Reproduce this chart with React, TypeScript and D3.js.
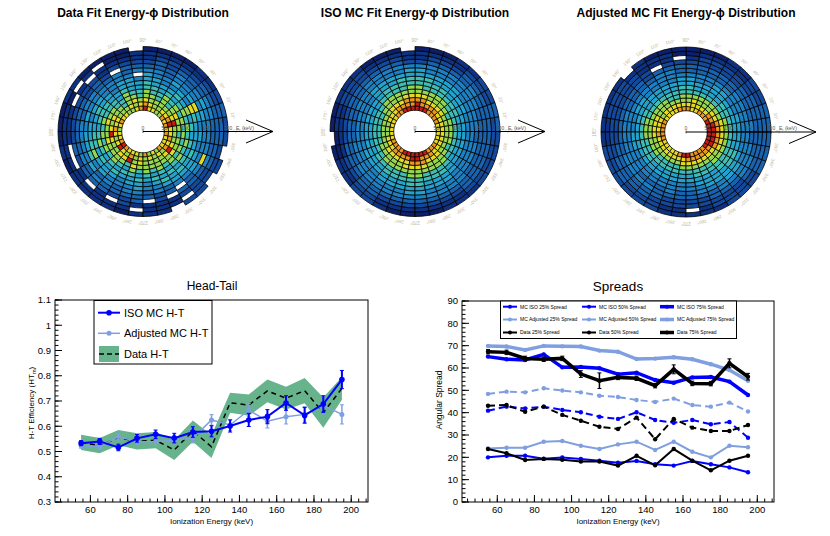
import * as d3 from "d3";

const FONT = "'Liberation Sans', Arial, Helvetica, sans-serif";

// ---- polar energy-phi maps ----
const energyEdges = [50, 60, 70, 80, 90, 100, 110, 120, 130, 140, 150, 160, 170, 180, 190, 200];
const phiTicks = [0, 10, 20, 30, 40, 50, 60, 70, 80, 90, 100, 110, 120, 130, 140, 150, 160, 170,
  180, 190, 200, 210, 220, 230, 240, 250, 260, 270, 280, 290, 300, 310, 320, 330, 340, 350];
const energyTicks = [0, 50, 100, 150, 200];

const palette = ["#0b1f6b", "#0e3283", "#13489a", "#1862ae", "#1c80c2", "#22a2cc",
  "#3ebdb4", "#95d64e", "#e4da24", "#ea961c", "#c81a14"];

// one string per energy ring (inner -> outer), one char per 10 deg sector (0 deg -> 350 deg, ccw)
// 0..9,a = colour level, "." = empty bin
const dataFitRings = [
  "898977 88a987 788987 889a98 887978 798889",
  "8a9887 789878 777889 878a87 978787 879898",
  "7a8777 778787 677878 a87788 a78777 78a877",
  "778767 677677 667787 787777 687777 778776",
  "676767 667667 566676 767676 576767 676767",
  "767656 566556 556665 676565 665656 567676",
  "657565 556555 455655 665656 556565 656565",
  "568454 455455 445545 567555 455456 565655",
  "458545 445.44 444454 556454 445445 555545",
  "454444 344434 334434 444534 344343 445444",
  "445434 33333. 232333 334343 333323 .34844",
  "344333 232222 122222 232333 223.2. 333433",
  "333322 221111 1.1.11 1..1.1 .21111 222333",
  "332211 111100 .1.011 111111 11.111 .22223",
  "232110 000.00 001100 010111 10111. 22.2.2",
];
const isoFitRings = [
  "889999 aaaaaa 998888 889999 aaaaaa 999888",
  "888899 99a999 988877 788899 99aa99 988888",
  "777888 899998 887777 777888 889998 887777",
  "776777 788887 777666 667777 788887 777677",
  "666677 777777 776666 666677 777777 776666",
  "556666 667766 665555 555666 667766 665555",
  "555556 666666 655555 555556 666666 655555",
  "445555 566665 554444 445555 556655 554444",
  "444455 555555 554444 444445 555555 544444",
  "444444 445544 444433 344444 445544 444443",
  "334444 444444 443333 333444 444444 443333",
  "333433 332233 333322 233333 333333 333333",
  "333332 221122 222211 112233 222222 233333",
  "232221 111111 122211 001122 111111 122222",
  "332211 000.00 011100 .01122 100001 112222",
];
const adjFitRings = [
  "aaa999 889998 888999 998888 89aa99 99aaaa",
  "aa9988 888888 887888 988888 888999 999aaa",
  "998877 787777 777888 877777 778888 888999",
  "887777 777766 777777 777766 667777 777888",
  "776666 666666 666677 766666 666666 677777",
  "666655 556655 555666 666655 555566 666666",
  "555555 555555 555555 555555 555555 566655",
  "554455 445544 445544 554444 444455 556655",
  "444444 444444 444444 444444 444445 555544",
  "444433 333344 333344 444433 343344 455444",
  "433333 333333 233333 334444 333333 444443",
  "333322 22222. 222222 233333 322223 334433",
  "333222 221.11 122222 223333 222222 223333",
  "332211 110011 112221 122322 211.12 222333",
  "332211 000000 1.1111 122222 211111 222333",
];

// ---- head-tail ----
const energies = [55, 65, 75, 85, 95, 105, 115, 125, 135, 145, 155, 165, 175, 185, 195];
const isoHT = [0.533, 0.54, 0.516, 0.552, 0.568, 0.553, 0.577, 0.58, 0.601, 0.625, 0.638, 0.692, 0.643, 0.688, 0.785];
const isoHTErr = [0.01, 0.012, 0.013, 0.015, 0.017, 0.019, 0.021, 0.022, 0.024, 0.026, 0.028, 0.029, 0.031, 0.033, 0.036];
const adjHT = [0.523, 0.519, 0.559, 0.539, 0.539, 0.546, 0.552, 0.625, 0.605, 0.664, 0.62, 0.638, 0.647, 0.683, 0.647];
const adjHTErr = [0.01, 0.012, 0.013, 0.014, 0.015, 0.016, 0.018, 0.021, 0.022, 0.026, 0.027, 0.029, 0.031, 0.034, 0.038];
const dataHT = [0.536, 0.523, 0.555, 0.54, 0.545, 0.506, 0.581, 0.519, 0.693, 0.684, 0.74, 0.711, 0.741, 0.654, 0.75];
const dataHTErr = [0.03, 0.03, 0.03, 0.032, 0.032, 0.04, 0.042, 0.045, 0.04, 0.042, 0.045, 0.045, 0.05, 0.06, 0.045];
const htYTicks = [0.3, 0.4, 0.5, 0.6, 0.7, 0.8, 0.9, 1.0, 1.1];

// ---- spreads ----
const iso25 = [20.0, 20.7, 20.7, 19.4, 19.9, 19.3, 18.5, 17.6, 18.4, 16.9, 16.3, 18.4, 16.9, 15.5, 13.3];
const iso50 = [40.9, 42.7, 41.9, 42.7, 41.2, 40.2, 38.2, 37.2, 40.2, 36.7, 35.5, 36.7, 34.8, 35.8, 28.8];
const iso75 = [65.1, 63.9, 63.6, 66.1, 60.3, 60.5, 59.9, 57.2, 57.9, 54.6, 53.4, 55.8, 56.0, 53.9, 47.9];
const adj25 = [24.0, 24.3, 24.3, 27.0, 27.3, 25.2, 23.7, 25.8, 27.0, 23.3, 27.0, 22.5, 20.0, 25.2, 24.5];
const adj50 = [48.4, 49.4, 49.1, 50.9, 49.9, 49.1, 47.6, 47.0, 45.7, 44.8, 46.3, 43.4, 42.7, 44.5, 40.5];
const adj75 = [69.9, 69.6, 68.1, 69.9, 69.7, 69.6, 67.8, 67.3, 64.0, 64.2, 64.8, 63.9, 61.7, 59.1, 54.3];
const data25 = [23.7, 21.8, 18.8, 19.3, 18.9, 18.1, 18.1, 16.3, 20.7, 16.4, 23.7, 18.5, 14.2, 18.5, 20.7];
const data50 = [43.1, 43.4, 40.4, 42.7, 39.0, 36.4, 33.7, 32.7, 37.8, 28.1, 37.2, 33.3, 31.8, 31.8, 34.5];
const data75 = [67.3, 67.0, 64.3, 63.9, 64.3, 57.3, 54.3, 55.8, 55.4, 52.1, 59.4, 53.1, 53.0, 62.1, 56.1];
const data75Err = [1, 1, 1, 1, 1, 1.5, 3.5, 1, 1, 1, 2, 1, 1, 2, 1.5];
const spYTicks = [0, 10, 20, 30, 40, 50, 60, 70, 80, 90];
const xTicks = [60, 80, 100, 120, 140, 160, 180, 200];

const BLUE = "#0000ff";
const LIGHT = "#7f9fe0";
const GREEN = "#67b38c";

const rad = Math.PI / 180;

function Polar({ cx, cy, title, rings }) {
  const r = d3.scaleLinear().domain([0, 200]).range([0, 85]);
  const arc = d3.arc();
  const cells = [];
  rings.forEach((row, k) => {
    row.replace(/ /g, "").split("").forEach((c, s) => {
      if (c === ".") return;
      const lvl = c === "a" ? 10 : +c;
      const d = arc({
        innerRadius: r(energyEdges[k]),
        outerRadius: r(energyEdges[k + 1]),
        startAngle: (90 - phiTicks[s] - 10) * rad,
        endAngle: (90 - phiTicks[s]) * rad,
      });
      cells.push(<path key={k + "-" + s} d={d} fill={palette[lvl]} stroke="#000" strokeWidth={0.8} />);
    });
  });
  const tip = 130;
  return (
    <g>
      <text x={cx} y={17} textAnchor="middle" fontSize={12} fontWeight="bold">{title}</text>
      <g transform={`translate(${cx},${cy})`}>
        {cells}
        {phiTicks.map((p) => (
          <text key={p} transform={`translate(${91 * Math.cos(p * rad)},${-91 * Math.sin(p * rad)}) rotate(${90 - p})`}
            textAnchor="middle" dominantBaseline="middle" fontSize={4.5} fill="#bdb596">{p}°</text>
        ))}
        <line x1={0} y1={0} x2={tip} y2={0} stroke="#000" strokeWidth={1} />
        <polyline points={`${tip - 27},-11.5 ${tip},0 ${tip - 27},11.5`} fill="none" stroke="#000" strokeWidth={1} />
        {energyTicks.map((e) => (
          <g key={e}>
            <line x1={r(e)} x2={r(e)} y1={-1.5} y2={1.5} stroke="#000" strokeWidth={0.6} />
            <text x={r(e)} y={-2} textAnchor="middle" fontSize={5} fill="#555">{e}</text>
          </g>
        ))}
        <text x={r(200) + 8} y={-2} fontSize={5} fill="#555">E<tspan dy={1} fontSize={3.5}>r</tspan><tspan dy={-1}> (keV)</tspan></text>
      </g>
    </g>
  );
}

function Frame({ x, y, yTicks, yMinorStep, yFmt }) {
  const [x0, x1] = x.range();
  const [y0, y1] = y.range(); // y0 bottom, y1 top
  const [yd0, yd1] = y.domain();
  const xMinor = d3.range(44, 209, 4);
  const yMinor = d3.range(yd0, yd1 + yMinorStep / 2, yMinorStep);
  return (
    <g>
      <rect x={x0} y={y1} width={x1 - x0} height={y0 - y1} fill="none" stroke="#000" strokeWidth={1} />
      {xMinor.map((v) => <line key={"xm" + v} x1={x(v)} x2={x(v)} y1={y0} y2={y0 - 3.5} stroke="#000" />)}
      {xTicks.map((v) => (
        <g key={"x" + v}>
          <line x1={x(v)} x2={x(v)} y1={y0} y2={y0 - 7} stroke="#000" />
          <text x={x(v)} y={y0 + 10.5} textAnchor="middle" fontSize={9.5}>{v}</text>
        </g>
      ))}
      {yMinor.map((v, i) => <line key={"ym" + i} x1={x0} x2={x0 + 3.5} y1={y(v)} y2={y(v)} stroke="#000" />)}
      {yTicks.map((v) => (
        <g key={"y" + v}>
          <line x1={x0} x2={x0 + 7} y1={y(v)} y2={y(v)} stroke="#000" />
          <text x={x0 - 4} y={y(v) + 3.3} textAnchor="end" fontSize={9.5}>{yFmt(v)}</text>
        </g>
      ))}
      <text x={(x0 + x1) / 2} y={y0 + 21.5} textAnchor="middle" fontSize={8}>Ionization Energy (keV)</text>
    </g>
  );
}

function ErrBars({ x, y, vals, errs, color, width }) {
  return (
    <g stroke={color} strokeWidth={width}>
      {energies.map((e, i) => (
        <g key={e}>
          <line x1={x(e)} x2={x(e)} y1={y(vals[i] - errs[i])} y2={y(vals[i] + errs[i])} />
          <line x1={x(e) - 2} x2={x(e) + 2} y1={y(vals[i] - errs[i])} y2={y(vals[i] - errs[i])} strokeWidth={1} />
          <line x1={x(e) - 2} x2={x(e) + 2} y1={y(vals[i] + errs[i])} y2={y(vals[i] + errs[i])} strokeWidth={1} />
        </g>
      ))}
    </g>
  );
}

function Series({ x, y, vals, color, width, dash, r }) {
  const idx = energies.map((_, i) => i);
  const d = d3.line().x((i) => x(energies[i])).y((i) => y(vals[i]))(idx);
  return (
    <g>
      <path d={d} fill="none" stroke={color} strokeWidth={width} strokeDasharray={dash || undefined} />
      {energies.map((e, i) => <circle key={e} cx={x(e)} cy={y(vals[i])} r={r} fill={color} />)}
    </g>
  );
}

function HeadTail() {
  const x = d3.scaleLinear().domain([41, 209]).range([55, 368]);
  const y = d3.scaleLinear().domain([0.3, 1.1]).range([502, 300]);
  const idx = energies.map((_, i) => i);
  const band = d3.area()
    .x((i) => x(energies[i]))
    .y0((i) => y(dataHT[i] - dataHTErr[i]))
    .y1((i) => y(dataHT[i] + dataHTErr[i]))(idx);
  const dataLine = d3.line().x((i) => x(energies[i])).y((i) => y(dataHT[i]))(idx);
  return (
    <g>
      <text x={212} y={290} textAnchor="middle" fontSize={12}>Head-Tail</text>
      <path d={band} fill={GREEN} />
      <path d={dataLine} fill="none" stroke="#000" strokeWidth={1.5} strokeDasharray="5,4" />
      <ErrBars x={x} y={y} vals={adjHT} errs={adjHTErr} color={LIGHT} width={1.5} />
      <Series x={x} y={y} vals={adjHT} color={LIGHT} width={1.5} r={2.5} />
      <ErrBars x={x} y={y} vals={isoHT} errs={isoHTErr} color={BLUE} width={2} />
      <Series x={x} y={y} vals={isoHT} color={BLUE} width={2} r={2.8} />
      <Frame x={x} y={y} yTicks={htYTicks} yMinorStep={0.02} yFmt={(v) => String(+v.toFixed(1))} />
      <text transform="translate(34,403) rotate(-90)" textAnchor="middle" fontSize={8}>
        H-T Efficiency (HT<tspan dy={2} fontSize={5.5}>m</tspan><tspan dy={-2}>)</tspan>
      </text>
      <g>
        <rect x={94} y={300.5} width={118} height={63.5} fill="#fff" stroke="#000" strokeWidth={1} />
        <line x1={98} x2={120} y1={312.7} y2={312.7} stroke={BLUE} strokeWidth={2} />
        <circle cx={109} cy={312.7} r={2.8} fill={BLUE} />
        <text x={124} y={316.7} fontSize={11}>ISO MC H-T</text>
        <line x1={98} x2={120} y1={333.3} y2={333.3} stroke={LIGHT} strokeWidth={1.5} />
        <circle cx={109} cy={333.3} r={2.5} fill={LIGHT} />
        <text x={124} y={337.3} fontSize={11}>Adjusted MC H-T</text>
        <rect x={99} y={346} width={20} height={16} fill={GREEN} />
        <line x1={99} x2={119} y1={354} y2={354} stroke="#000" strokeWidth={1.5} strokeDasharray="5,3" />
        <text x={124} y={358.3} fontSize={11}>Data H-T</text>
      </g>
    </g>
  );
}

const spreadSeries = [
  { label: "MC ISO 25% Spread", vals: iso25, color: BLUE, width: 2, dash: null },
  { label: "MC ISO 50% Spread", vals: iso50, color: BLUE, width: 2, dash: "7,4" },
  { label: "MC ISO 75% Spread", vals: iso75, color: BLUE, width: 3.5, dash: null },
  { label: "MC Adjusted 25% Spread", vals: adj25, color: LIGHT, width: 2, dash: null },
  { label: "MC Adjusted 50% Spread", vals: adj50, color: LIGHT, width: 2, dash: "7,4" },
  { label: "MC Adjusted 75% Spread", vals: adj75, color: LIGHT, width: 3.5, dash: null },
  { label: "Data 25% Spread", vals: data25, color: "#000", width: 2, dash: null },
  { label: "Data 50% Spread", vals: data50, color: "#000", width: 2, dash: "7,4" },
  { label: "Data 75% Spread", vals: data75, color: "#000", width: 3.5, dash: null },
];

function Spreads() {
  const x = d3.scaleLinear().domain([41, 209]).range([462, 774]);
  const y = d3.scaleLinear().domain([0, 90]).range([502, 301]);
  const colX = [503, 582, 660];
  const rowY = [306.7, 319.5, 332.5];
  return (
    <g>
      <text x={618} y={291} textAnchor="middle" fontSize={13.5}>Spreads</text>
      {spreadSeries.map((s) => (
        <Series key={s.label} x={x} y={y} vals={s.vals} color={s.color} width={s.width} dash={s.dash} r={2.2} />
      ))}
      <ErrBars x={x} y={y} vals={data75} errs={data75Err} color="#000" width={1.5} />
      <Frame x={x} y={y} yTicks={spYTicks} yMinorStep={2} yFmt={(v) => String(v)} />
      <text transform="translate(442,400) rotate(-90)" textAnchor="middle" fontSize={8.5}>Angular Spread</text>
      <rect x={500.5} y={301} width={236} height={37.5} fill="#fff" stroke="#000" strokeWidth={1} />
      {spreadSeries.map((s, i) => {
        const cxp = colX[i % 3];
        const cyp = rowY[Math.floor(i / 3)];
        return (
          <g key={s.label}>
            <line x1={cxp} x2={cxp + 14} y1={cyp} y2={cyp} stroke={s.color} strokeWidth={s.width} />
            <circle cx={cxp + 7} cy={cyp} r={2} fill={s.color} />
            <text x={cxp + 17} y={cyp + 1.8} fontSize={5}>{s.label}</text>
          </g>
        );
      })}
    </g>
  );
}

export default function App() {
  return (
    <svg width={830} height={536} style={{ position: "absolute", left: 0, top: 0, background: "#fff" }} fontFamily={FONT}>
      <Polar cx={143} cy={131.5} title="Data Fit Energy-ϕ Distribution" rings={dataFitRings} />
      <Polar cx={415} cy={131.5} title="ISO MC Fit Energy-ϕ Distribution" rings={isoFitRings} />
      <Polar cx={686} cy={132} title="Adjusted MC Fit Energy-ϕ Distribution" rings={adjFitRings} />
      <HeadTail />
      <Spreads />
    </svg>
  );
}
